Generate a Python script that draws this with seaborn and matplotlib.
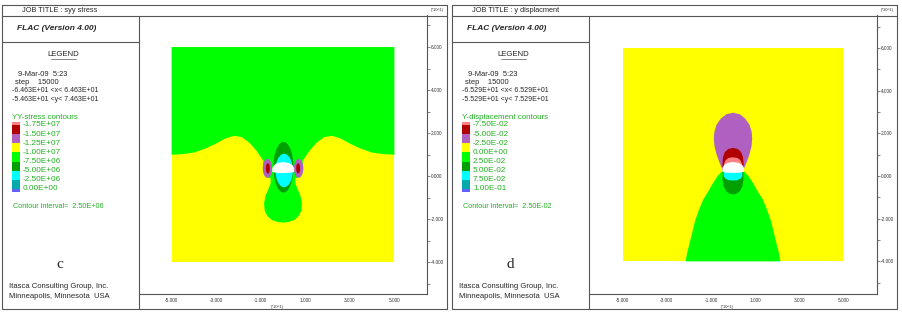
import numpy as np
import matplotlib
matplotlib.use("Agg")
import matplotlib.pyplot as plt
from matplotlib.patches import Rectangle, Ellipse
from matplotlib.lines import Line2D
import seaborn as sns

sns.set_style("white")
plt.rcParams["font.family"] = ["Liberation Sans", "DejaVu Sans"]

W, H = 903, 313

# legend entries
syy_levels = ["-1.75E+07", "-1.50E+07", "-1.25E+07", "-1.00E+07",
              "-7.50E+06", "-5.00E+06", "-2.50E+06", "0.00E+00"]
ydisp_levels = ["-7.50E-02", "-5.00E-02", "-2.50E-02", "0.00E+00",
                "2.50E-02", "5.00E-02", "7.50E-02", "1.00E-01"]
band_colors = ["#ff8080", "#b00000", "#b060c0", "#ffff00", "#00ff00",
               "#00a000", "#00ffff", "#00aaaa", "#6060ff"]

# model extent (x10 m)
model_x = [-5, 5]
model_y = [-4, 6]
syy_xlim = [-6.463, 6.463]
syy_ylim = [-5.463, 7.463]
ydisp_xlim = [-6.529, 6.529]
ydisp_ylim = [-5.529, 7.529]
xtick_major = [-5, -3, -1, 1, 3, 5]
xtick_minor = [-6, -4, -2, 0, 2, 4, 6]
ytick_major = [-4, -2, 0, 2, 4, 6]
ytick_minor = [-5, -3, -1, 1, 3, 5, 7]

# tunnel opening (white)
tunnel_x = [-0.48, -0.48, -0.4, -0.25, 0.0, 0.25, 0.42, 0.5, 0.5, 0.3, 0.0, -0.3]
tunnel_y = [0.2, 0.38, 0.52, 0.62, 0.66, 0.62, 0.52, 0.38, 0.2, 0.16, 0.15, 0.16]

# syy stress: -7.5E+06 (green) zone, rest of the model is -1.0E+07 (yellow)
syy_green_x = [-5.0, 5.0, 5.0, 4.5, 4.0, 3.5, 3.0, 2.6, 2.2, 1.85, 1.5, 1.2, 1.0, 0.88,
               0.9, 0.75, 0.55, 0.56, 0.66, 0.78, 0.85, 0.82, 0.7, 0.5, 0.25, 0.0,
               -0.25, -0.5, -0.7, -0.82, -0.85, -0.78, -0.66, -0.56, -0.55, -0.75, -0.9,
               -0.88, -1.0, -1.2, -1.5, -1.85, -2.2, -2.6, -3.0, -3.5, -4.0, -4.5, -5.0]
syy_green_y = [6.0, 6.0, 1.0, 1.03, 1.1, 1.28, 1.52, 1.75, 1.88, 1.82, 1.55, 1.2, 0.9, 0.72,
               0.4, -0.02, -0.1, -0.35, -0.6, -0.9, -1.25, -1.6, -1.85, -2.03, -2.12, -2.15,
               -2.12, -2.03, -1.85, -1.6, -1.25, -0.9, -0.6, -0.35, -0.1, -0.02, 0.4,
               0.72, 0.9, 1.2, 1.55, 1.82, 1.88, 1.75, 1.52, 1.28, 1.1, 1.03, 1.0]
# elliptical zones round the opening: centre x, centre y, width, height
syy_dkgreen = [0.02, 0.42, 0.9, 2.35]
syy_cyan = [0.05, 0.27, 0.78, 1.55]
syy_purple = [[-0.7, 0.37, 0.42, 0.88], [0.7, 0.37, 0.42, 0.88]]
syy_red = [[-0.68, 0.37, 0.18, 0.48], [0.68, 0.37, 0.18, 0.48]]

# y displacement zones
yd_green_x = [0.45, 0.7, 0.92, 1.12, 1.35, 1.55, 1.72, 1.85, 1.97, 2.08, 2.15,
              -2.15, -2.08, -1.97, -1.85, -1.72, -1.55, -1.35, -1.12, -0.92, -0.7, -0.45]
yd_green_y = [0.28, 0.0, -0.35, -0.72, -1.1, -1.6, -2.1, -2.65, -3.15, -3.6, -4.0,
              -4.0, -3.6, -3.15, -2.65, -2.1, -1.6, -1.1, -0.72, -0.35, 0.0, 0.28]
yd_purple_x = [0.0, 0.3, 0.55, 0.75, 0.85, 0.87, 0.84, 0.74, 0.6, 0.47,
               -0.47, -0.6, -0.74, -0.84, -0.87, -0.85, -0.75, -0.55, -0.3]
yd_purple_y = [2.97, 2.9, 2.7, 2.4, 2.05, 1.75, 1.4, 1.0, 0.6, 0.28,
               0.28, 0.6, 1.0, 1.4, 1.75, 2.05, 2.4, 2.7, 2.9]
yd_red_x = [0.0, 0.22, 0.37, 0.45, 0.48, 0.47, -0.47, -0.48, -0.45, -0.37, -0.22]
yd_red_y = [1.32, 1.27, 1.12, 0.9, 0.6, 0.28, 0.28, 0.6, 0.9, 1.12, 1.27]
yd_salmon_x = [0.0, 0.2, 0.33, 0.4, 0.4, -0.4, -0.4, -0.33, -0.2]
yd_salmon_y = [0.88, 0.85, 0.75, 0.6, 0.4, 0.4, 0.6, 0.75, 0.85]
yd_dkgreen_x = [0.47, 0.47, 0.42, 0.3, 0.15, 0.0, -0.15, -0.3, -0.42, -0.47, -0.47]
yd_dkgreen_y = [0.28, -0.2, -0.5, -0.72, -0.83, -0.86, -0.83, -0.72, -0.5, -0.2, 0.28]
yd_cyan_x = [0.42, 0.42, 0.35, 0.2, 0.0, -0.2, -0.35, -0.42, -0.42]
yd_cyan_y = [0.28, 0.0, -0.12, -0.19, -0.21, -0.19, -0.12, 0.0, 0.28]

GREEN_TXT = "#22b022"
LINE = "#555555"


def fx(x):
    return x / W


def fy(y):
    return 1 - y / H


fig = plt.figure(figsize=(W / 100, H / 100), dpi=100)


def hline(x0, x1, y, lw=0.8):
    fig.add_artist(Line2D([fx(x0), fx(x1)], [fy(y), fy(y)], color=LINE, lw=lw))


def vline(x, y0, y1, lw=0.8):
    fig.add_artist(Line2D([fx(x), fx(x)], [fy(y0), fy(y1)], color=LINE, lw=lw))


def txt(x, y, s, size=5.4, **kw):
    fig.text(fx(x), fy(y), s, fontsize=size, va="center", **kw)


def panel(ox, title, rng, name, levels, interval, letter, xlim, ylim):
    # frames
    left, right, top, bot = ox + 2, ox + 447, 5, 309
    hline(left, right, top)
    hline(left, right, bot)
    vline(left, top, bot)
    vline(right, top, bot)
    hline(left, right, 15.5)
    vline(ox + 139, 15.5, bot)
    hline(left, ox + 139, 42)

    txt(ox + 22, 10.5, "JOB TITLE : " + title, size=5.3)
    txt(ox + 17, 29, "FLAC (Version 4.00)", size=6.0, weight="bold", style="italic")
    txt(ox + 63, 54, "LEGEND", size=5.6, ha="center")
    hline(ox + 51, ox + 76, 58.5, lw=0.5)
    txt(ox + 18, 74, "9-Mar-09  5:23")
    txt(ox + 15, 82.5, "step    15000")
    txt(ox + 12, 91, "-%s <x< %s" % (rng[0], rng[1]), size=5.0)
    txt(ox + 12, 99.5, "-%s <y< %s" % (rng[2], rng[3]), size=5.0)
    txt(ox + 12, 117, name, size=5.7, color=GREEN_TXT)

    # colour swatches
    edges = [121.5, 124.5, 134, 143, 152, 161.5, 170.5, 179.5, 189, 192]
    for c, y0, y1 in zip(band_colors, edges[:-1], edges[1:]):
        fig.add_artist(Rectangle((fx(ox + 12), fy(y1)), fx(8), (y1 - y0) / H,
                                 transform=fig.transFigure, facecolor=c,
                                 edgecolor="none"))
    for lab, y in zip(levels, edges[1:-1]):
        txt(ox + 23, y, lab, size=5.9, color=GREEN_TXT)
    txt(ox + 13, 207, "Contour interval=  " + interval, size=5.2, color=GREEN_TXT)

    txt(ox + 60, 265, letter, size=11, family=["Liberation Serif", "DejaVu Serif"], ha="center")
    txt(ox + 9, 286, "Itasca Consulting Group, Inc.", size=5.5)
    txt(ox + 9, 296, "Minneapolis, Minnesota  USA", size=5.5)

    # plotting area
    ax = fig.add_axes([fx(ox + 139), fy(294), 288 / W, (294 - 15.5) / H])
    ax.set_xlim(xlim)
    ax.set_ylim(ylim)
    ax.patch.set_alpha(0)
    sns.despine(ax=ax, left=True, top=True, right=False, bottom=False)
    for s in ["right", "bottom"]:
        ax.spines[s].set_color(LINE)
        ax.spines[s].set_linewidth(0.8)
    ax.yaxis.tick_right()
    ax.set_xticks(xtick_major)
    ax.set_xticklabels(["%.3f" % v for v in xtick_major])
    ax.set_xticks(xtick_minor, minor=True)
    ax.set_yticks(ytick_major)
    ax.set_yticklabels(["%.3f" % v for v in ytick_major])
    ax.set_yticks(ytick_minor, minor=True)
    ax.tick_params(which="both", direction="out", length=2, width=0.5,
                   colors=LINE, labelsize=3.4, pad=1, labelcolor="#333333")
    txt(ox + 437, 9.5, "(*10^1)", size=3.0, ha="center", color="#333333")
    txt(ox + 277, 307, "(*10^1)", size=3.0, ha="center", color="#333333")
    return ax


ax1 = panel(0, "syy stress", ["6.463E+01", "6.463E+01", "5.463E+01", "7.463E+01"],
            "YY-stress contours", syy_levels, "2.50E+06", "c", syy_xlim, syy_ylim)
ax2 = panel(450, "y displacment", ["6.529E+01", "6.529E+01", "5.529E+01", "7.529E+01"],
            "Y-displacement contours", ydisp_levels, "2.50E-02", "d", ydisp_xlim, ydisp_ylim)

# left: syy stress
ax1.add_patch(Rectangle((model_x[0], model_y[0]), model_x[1] - model_x[0],
                        model_y[1] - model_y[0], facecolor=band_colors[3], edgecolor="none"))
ax1.fill(syy_green_x, syy_green_y, color=band_colors[4], lw=0)
for e, c in [(syy_dkgreen, band_colors[5]), (syy_cyan, band_colors[6])]:
    ax1.add_patch(Ellipse((e[0], e[1]), e[2], e[3], facecolor=c, edgecolor="none"))
for e in syy_purple:
    ax1.add_patch(Ellipse((e[0], e[1]), e[2], e[3], facecolor=band_colors[2], edgecolor="none"))
for e in syy_red:
    ax1.add_patch(Ellipse((e[0], e[1]), e[2], e[3], facecolor=band_colors[1], edgecolor="none"))
ax1.fill(tunnel_x, tunnel_y, color="white", lw=0)

# right: y displacement
ax2.add_patch(Rectangle((model_x[0], model_y[0]), model_x[1] - model_x[0],
                        model_y[1] - model_y[0], facecolor=band_colors[3], edgecolor="none"))
ax2.fill(yd_green_x, yd_green_y, color=band_colors[4], lw=0)
ax2.fill(yd_purple_x, yd_purple_y, color=band_colors[2], lw=0)
ax2.fill(yd_red_x, yd_red_y, color=band_colors[1], lw=0)
ax2.fill(yd_salmon_x, yd_salmon_y, color=band_colors[0], lw=0)
ax2.fill(yd_dkgreen_x, yd_dkgreen_y, color=band_colors[5], lw=0)
ax2.fill(yd_cyan_x, yd_cyan_y, color=band_colors[6], lw=0)
ax2.fill(tunnel_x, tunnel_y, color="white", lw=0)

fig.savefig("out.png", dpi=100)
